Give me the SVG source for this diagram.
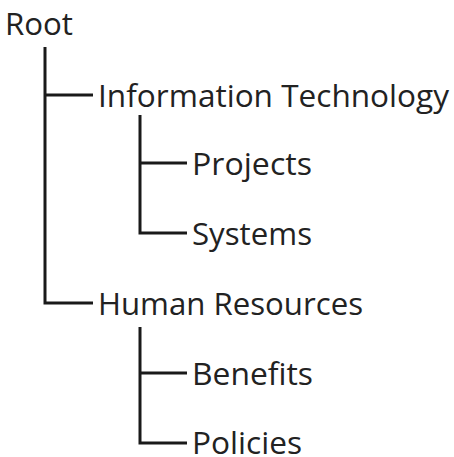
<svg xmlns="http://www.w3.org/2000/svg" width="454" height="457" viewBox="0 0 454 457">
<style>
text{font-family:"Open Sans","Noto Sans",sans-serif;font-size:31px;fill:#222}
.c path{fill:none;stroke:#1a1a1a;stroke-width:3}
</style>
<rect width="454" height="457" fill="#fff"/>
<g class="c" id="connectors">
<path d="M45,47V303H93M45,95H93"/>
<path d="M140,115V233H187M140,163H187"/>
<path d="M140,327V443H187M140,373H187"/>
</g>
<g id="root"><text x="5" y="35" textLength="68" lengthAdjust="spacingAndGlyphs">Root</text></g>
<g id="it"><text x="98" y="107" textLength="351" lengthAdjust="spacingAndGlyphs">Information Technology</text></g>
<g id="projects"><text x="192" y="175" textLength="120" lengthAdjust="spacingAndGlyphs">Projects</text></g>
<g id="systems"><text x="192" y="245" textLength="120" lengthAdjust="spacingAndGlyphs">Systems</text></g>
<g id="hr"><text x="98" y="315" textLength="265" lengthAdjust="spacingAndGlyphs">Human Resources</text></g>
<g id="benefits"><text x="192" y="385" textLength="121" lengthAdjust="spacingAndGlyphs">Benefits</text></g>
<g id="policies"><text x="192" y="454" textLength="110" lengthAdjust="spacingAndGlyphs">Policies</text></g>
</svg>
